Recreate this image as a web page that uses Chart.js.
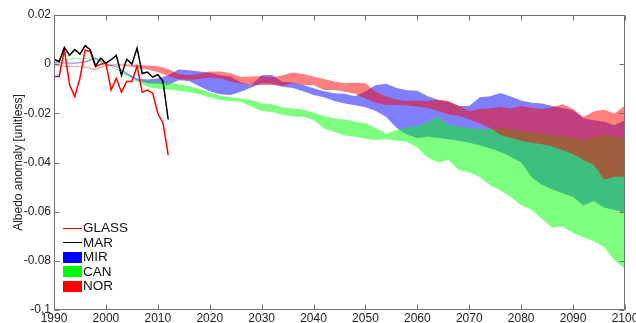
<!DOCTYPE html>
<html lang="en">
<head>
  <meta charset="UTF-8" />
  <title>Albedo anomaly</title>
  <style>
    * { box-sizing: border-box; }
    body, html { margin: 0; padding: 0; background: #fff; }
    #wrap { position: relative; width: 636px; height: 323px; }
    #legend {
      position: absolute; left: 63px; top: 221px;
      font-family: 'Liberation Sans', Arial, sans-serif;
      font-size: 13.5px; color: #111; line-height: 14.5px;
    }
    #legend div { display: flex; align-items: center; height: 14.5px; }
    #legend .ln { width: 19px; height: 0; border-top: 1.5px solid; margin-right: 1px; }
    #legend .sq { width: 19px; height: 11px; margin-right: 1px; }
  </style>
</head>
<body>
  <div id="wrap">
    <canvas id="albedoChart"></canvas>
    <div id="legend">
      <div><span class="ln" style="border-color:#ff0000"></span>GLASS</div>
      <div><span class="ln" style="border-color:#000"></span>MAR</div>
      <div><span class="sq" style="background:#0000ff"></span>MIR</div>
      <div><span class="sq" style="background:#00ff00"></span>CAN</div>
      <div><span class="sq" style="background:#ff0000"></span>NOR</div>
    </div>
  </div>

  <script src="https://cdn.jsdelivr.net/npm/chart.js"></script>
  <script>
    // observed years and series
    const obsYears = [1990, 1991, 1992, 1993, 1994, 1995, 1996, 1997, 1998, 1999, 2000, 2001,
      2002, 2003, 2004, 2005, 2006, 2007, 2008, 2009, 2010, 2011, 2012];
    const glass = [-0.0050, -0.0050, 0.0058, -0.0084, -0.0132, -0.0057, 0.0058, 0.0050, -0.0010, 0.0000, 0.0004, -0.0105,
      -0.0057, -0.0114, -0.0070, -0.0070, -0.0008, -0.0114, -0.0105, -0.0118, -0.0200, -0.0240, -0.0370];
    const mar = [0.0020, 0.0010, 0.0068, 0.0036, 0.0059, 0.0041, 0.0075, 0.0058, -0.0007, 0.0024, 0.0004, 0.0018,
      0.0036, -0.0045, 0.0020, 0.0000, 0.0065, -0.0038, -0.0032, -0.0053, -0.0042, -0.0070, -0.0225];

    // model range years (every 2 years)
    const bandYears = [1990, 1992, 1994, 1996, 1998, 2000, 2002, 2004, 2006, 2008, 2010, 2012, 2014, 2016, 2018,
      2020, 2022, 2024, 2026, 2028, 2030, 2032, 2034, 2036, 2038, 2040, 2042, 2044, 2046, 2048,
      2050, 2052, 2054, 2056, 2058, 2060, 2062, 2064, 2066, 2068, 2070, 2072, 2074, 2076, 2078,
      2080, 2082, 2084, 2086, 2088, 2090, 2092, 2094, 2096, 2098, 2100];

    const mirHi = [0.0008, 0.0007, 0.0006, 0.0012, 0.0027, 0.0003, -0.0007, -0.0035, -0.0058, -0.0062, -0.0058, -0.0045, -0.0022, -0.0025, -0.0030,
      -0.0035, -0.0045, -0.0050, -0.0075, -0.0085, -0.0045, -0.0044, -0.0072, -0.0075, -0.0085, -0.0098, -0.0110, -0.0118, -0.0120, -0.0130,
      -0.0110, -0.0085, -0.0080, -0.0097, -0.0106, -0.0108, -0.0130, -0.0145, -0.0153, -0.0170, -0.0170, -0.0135, -0.0130, -0.0117, -0.0132,
      -0.0148, -0.0157, -0.0160, -0.0170, -0.0178, -0.0187, -0.0220, -0.0228, -0.0234, -0.0248, -0.0227];
    const mirLo = [0.0004, 0.0003, 0.0002, 0.0007, 0.0022, -0.0002, -0.0012, -0.0042, -0.0066, -0.0078, -0.0080, -0.0085, -0.0065, -0.0068, -0.0090,
      -0.0110, -0.0122, -0.0125, -0.0112, -0.0095, -0.0078, -0.0080, -0.0092, -0.0097, -0.0110, -0.0125, -0.0135, -0.0150, -0.0160, -0.0167,
      -0.0175, -0.0190, -0.0215, -0.0260, -0.0287, -0.0300, -0.0295, -0.0300, -0.0305, -0.0312, -0.0320, -0.0330, -0.0343, -0.0357, -0.0377,
      -0.0400, -0.0460, -0.0490, -0.0510, -0.0525, -0.0540, -0.0575, -0.0557, -0.0584, -0.0592, -0.0605];

    const canHi = [0.0012, 0.0019, 0.0025, 0.0025, 0.0022, 0.0002, -0.0018, -0.0042, -0.0064, -0.0072, -0.0072, -0.0075, -0.0082, -0.0090, -0.0100,
      -0.0115, -0.0128, -0.0135, -0.0140, -0.0146, -0.0160, -0.0163, -0.0175, -0.0180, -0.0185, -0.0197, -0.0212, -0.0220, -0.0225, -0.0234,
      -0.0240, -0.0260, -0.0283, -0.0268, -0.0258, -0.0252, -0.0236, -0.0213, -0.0247, -0.0255, -0.0260, -0.0265, -0.0265, -0.0262, -0.0265,
      -0.0272, -0.0278, -0.0282, -0.0288, -0.0293, -0.0298, -0.0309, -0.0298, -0.0288, -0.0295, -0.0302];
    const canLo = [0.0008, 0.0015, 0.0021, 0.0021, 0.0018, -0.0002, -0.0022, -0.0048, -0.0070, -0.0092, -0.0100, -0.0103, -0.0108, -0.0114, -0.0122,
      -0.0136, -0.0146, -0.0150, -0.0153, -0.0172, -0.0190, -0.0195, -0.0206, -0.0213, -0.0214, -0.0227, -0.0262, -0.0275, -0.0290, -0.0295,
      -0.0303, -0.0308, -0.0305, -0.0310, -0.0316, -0.0340, -0.0380, -0.0400, -0.0390, -0.0430, -0.0440, -0.0459, -0.0493, -0.0513, -0.0540,
      -0.0574, -0.0592, -0.0630, -0.0665, -0.0660, -0.0687, -0.0704, -0.0720, -0.0745, -0.0799, -0.0833];

    const norHi = [-0.0001, -0.0006, -0.0007, -0.0010, -0.0020, -0.0003, 0.0000, -0.0001, -0.0003, -0.0005, -0.0008, -0.0020, -0.0040, -0.0045, -0.0040,
      -0.0030, -0.0030, -0.0037, -0.0052, -0.0050, -0.0048, -0.0053, -0.0045, -0.0034, -0.0040, -0.0050, -0.0060, -0.0071, -0.0078, -0.0076,
      -0.0078, -0.0112, -0.0132, -0.0145, -0.0150, -0.0148, -0.0150, -0.0145, -0.0150, -0.0170, -0.0190, -0.0182, -0.0180, -0.0173, -0.0180,
      -0.0170, -0.0177, -0.0182, -0.0175, -0.0163, -0.0182, -0.0215, -0.0193, -0.0185, -0.0202, -0.0168];
    const norLo = [-0.0005, -0.0010, -0.0011, -0.0014, -0.0024, -0.0007, -0.0004, -0.0007, -0.0015, -0.0022, -0.0032, -0.0048, -0.0060, -0.0063, -0.0060,
      -0.0054, -0.0058, -0.0071, -0.0080, -0.0085, -0.0085, -0.0085, -0.0088, -0.0078, -0.0085, -0.0085, -0.0105, -0.0105, -0.0112, -0.0120,
      -0.0140, -0.0157, -0.0166, -0.0166, -0.0168, -0.0172, -0.0178, -0.0190, -0.0205, -0.0210, -0.0225, -0.0240, -0.0260, -0.0288, -0.0300,
      -0.0312, -0.0320, -0.0326, -0.0335, -0.0350, -0.0365, -0.0390, -0.0410, -0.0470, -0.0458, -0.0458];

    const xTicks = [1990, 2000, 2010, 2020, 2030, 2040, 2050, 2060, 2070, 2080, 2090, 2100];
    const yTicks = [0.02, 0, -0.02, -0.04, -0.06, -0.08, -0.1];

    const pts = (xs, ys) => xs.map((x, i) => ({ x: x, y: ys[i] }));

    function band(name, hi, lo, color) {
      return [
        { label: name + ' max', data: pts(bandYears, hi), backgroundColor: color, fill: '+1',
          borderWidth: 0, pointRadius: 0 },
        { label: name + ' min', data: pts(bandYears, lo), backgroundColor: color, fill: false,
          borderWidth: 0, pointRadius: 0 }
      ];
    }

    // box round the plot with inward ticks, matlab style
    const boxPlugin = {
      id: 'boxTicks',
      afterDraw(chart) {
        const { ctx, chartArea: a, scales } = chart;
        const L = Math.round(a.left) + 0.5, R = Math.round(a.right) - 0.5;
        const T = Math.round(a.top) + 0.5, B = Math.round(a.bottom) - 0.5;
        ctx.save();
        ctx.strokeStyle = '#707070';
        ctx.lineWidth = 1;
        ctx.strokeRect(L, T, R - L, B - T);
        ctx.beginPath();
        xTicks.forEach(v => {
          const px = Math.round(scales.x.getPixelForValue(v)) + 0.5;
          ctx.moveTo(px, B); ctx.lineTo(px, B - 5);
          ctx.moveTo(px, T); ctx.lineTo(px, T + 5);
        });
        yTicks.forEach(v => {
          const py = Math.round(scales.y.getPixelForValue(v)) + 0.5;
          ctx.moveTo(L, py); ctx.lineTo(L + 5, py);
          ctx.moveTo(R, py); ctx.lineTo(R - 5, py);
        });
        ctx.stroke();
        ctx.restore();
      }
    };

    const ctx = document.getElementById('albedoChart').getContext('2d');
    Chart.defaults.font.family = "'Liberation Sans', Arial, sans-serif";

    new Chart(ctx, {
      type: 'line',
      data: {
        datasets: [
          { label: 'MAR', data: pts(obsYears, mar), borderColor: '#000000', borderWidth: 1.5,
            pointRadius: 0, fill: false },
          { label: 'GLASS', data: pts(obsYears, glass), borderColor: '#ff0000', borderWidth: 1.5,
            pointRadius: 0, fill: false },
          ...band('NOR', norHi, norLo, 'rgba(255, 0, 0, 0.5)'),
          ...band('CAN', canHi, canLo, 'rgba(0, 255, 0, 0.5)'),
          ...band('MIR', mirHi, mirLo, 'rgba(0, 0, 255, 0.5)')
        ]
      },
      options: {
        animation: false,
        responsive: true,
        maintainAspectRatio: false,
        layout: { padding: { top: 15, right: 11, left: 0, bottom: 0 } },
        elements: { line: { tension: 0 } },
        plugins: { legend: { display: false }, tooltip: { enabled: false } },
        scales: {
          x: {
            type: 'linear', min: 1990, max: 2100,
            afterBuildTicks: s => { s.ticks = xTicks.map(v => ({ value: v })); },
            afterFit: s => { s.height = 13; s.paddingLeft = 0; s.paddingRight = 0; },
            grid: { display: false, drawTicks: false },
            border: { display: false },
            ticks: {
              color: '#222', font: { size: 12 }, padding: 1, maxRotation: 0, autoSkip: false,
              callback: v => String(Math.round(v))
            }
          },
          y: {
            min: -0.1, max: 0.02,
            afterBuildTicks: s => { s.ticks = yTicks.map(v => ({ value: v })); },
            afterFit: s => { s.width = 54; s.paddingTop = 0; s.paddingBottom = 0; },
            grid: { display: false, drawTicks: false },
            border: { display: false },
            ticks: {
              color: '#222', font: { size: 12 }, padding: 3, autoSkip: false,
              callback: v => String(parseFloat(Number(v).toFixed(2)))
            },
            title: {
              display: true, text: 'Albedo anomaly [unitless]', color: '#222',
              font: { size: 12 }, padding: { top: 11, bottom: 0 }
            }
          }
        }
      },
      plugins: [boxPlugin]
    });
  </script>
</body>
</html>
